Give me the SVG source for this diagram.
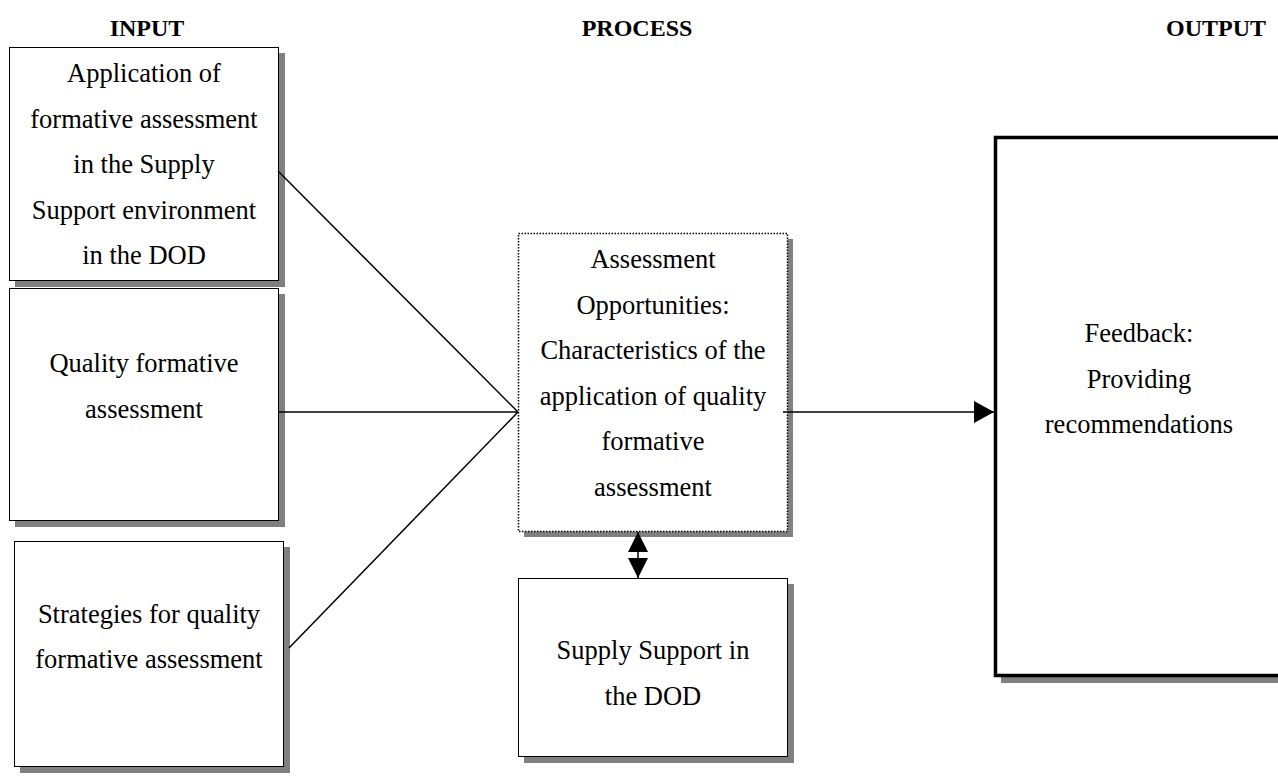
<svg xmlns="http://www.w3.org/2000/svg" width="1278" height="776" viewBox="0 0 1278 776">
<style>
.box{fill:#fff;stroke:#000;stroke-width:1}
.shadow{fill:#808080;stroke:none}
.t{font-family:"Liberation Serif","Times New Roman",serif;font-size:26.5px;fill:#000;text-anchor:middle}
.h{font-family:"Liberation Serif","Times New Roman",serif;font-size:24px;font-weight:bold;fill:#000;text-anchor:middle}
.ln{stroke:#000;stroke-width:1.5;fill:none}
</style>
<defs>
<marker id="ah" markerUnits="userSpaceOnUse" markerWidth="20" markerHeight="22" refX="20" refY="11" orient="auto">
<path d="M0,0 L20,11 L0,22 Z" fill="#000"/>
</marker>
<marker id="ah2" markerUnits="userSpaceOnUse" markerWidth="20" markerHeight="20" refX="20" refY="10" orient="auto-start-reverse">
<path d="M0,0 L20,10 L0,20 Z" fill="#000"/>
</marker>
</defs>
<rect width="1278" height="776" fill="#fff"/>
<g id="headers">
<text class="h" x="147" y="36">INPUT</text>
<text class="h" x="637" y="36">PROCESS</text>
<text class="h" x="1216" y="36">OUTPUT</text>
</g>
<g id="input1">
<rect class="shadow" x="15" y="53" width="270" height="234"/>
<rect class="box" x="9.5" y="47.5" width="269" height="233"/>
<text class="t" x="144" y="82">Application of</text>
<text class="t" x="144" y="127.5">formative assessment</text>
<text class="t" x="144" y="173">in the Supply</text>
<text class="t" x="144" y="218.5">Support environment</text>
<text class="t" x="144" y="264">in the DOD</text>
</g>
<g id="input2">
<rect class="shadow" x="15" y="294" width="270" height="233"/>
<rect class="box" x="9.5" y="288.5" width="269" height="232"/>
<text class="t" x="144" y="372">Quality formative</text>
<text class="t" x="144" y="417.5">assessment</text>
</g>
<g id="input3">
<rect class="shadow" x="20" y="547" width="270" height="226"/>
<rect class="box" x="14.5" y="541.5" width="269" height="225"/>
<text class="t" x="149" y="623">Strategies for quality</text>
<text class="t" x="149" y="668">formative assessment</text>
</g>
<g id="process">
<rect class="shadow" x="524" y="239" width="269" height="298"/>
<rect x="518.5" y="233.5" width="269" height="298" fill="#fff" stroke="#000" stroke-width="1.5" stroke-dasharray="1.5 1.5"/>
<text class="t" x="653" y="268">Assessment</text>
<text class="t" x="653" y="313.5">Opportunities:</text>
<text class="t" x="653" y="359">Characteristics of the</text>
<text class="t" x="653" y="404.5">application of quality</text>
<text class="t" x="653" y="450">formative</text>
<text class="t" x="653" y="496">assessment</text>
</g>
<g id="supply">
<rect class="shadow" x="524" y="584" width="270" height="179"/>
<rect class="box" x="518.5" y="578.5" width="269" height="178"/>
<text class="t" x="653" y="659">Supply Support in</text>
<text class="t" x="653" y="705">the DOD</text>
</g>
<g id="output">
<rect class="shadow" x="1001" y="143" width="300" height="540"/>
<rect x="995.5" y="137.5" width="320" height="538" fill="#fff" stroke="#000" stroke-width="3.5"/>
<text class="t" x="1139" y="342">Feedback:</text>
<text class="t" x="1139" y="387.5">Providing</text>
<text class="t" x="1139" y="433">recommendations</text>
</g>
<g id="connectors">
<line class="ln" x1="278" y1="171" x2="518" y2="412"/>
<line class="ln" x1="278" y1="412" x2="518" y2="412"/>
<line class="ln" x1="289" y1="648" x2="518" y2="412"/>
<line class="ln" x1="783" y1="412" x2="994" y2="412" marker-end="url(#ah)"/>
<line class="ln" x1="638" y1="532" x2="638" y2="578" marker-start="url(#ah2)" marker-end="url(#ah2)"/>
</g>
</svg>
